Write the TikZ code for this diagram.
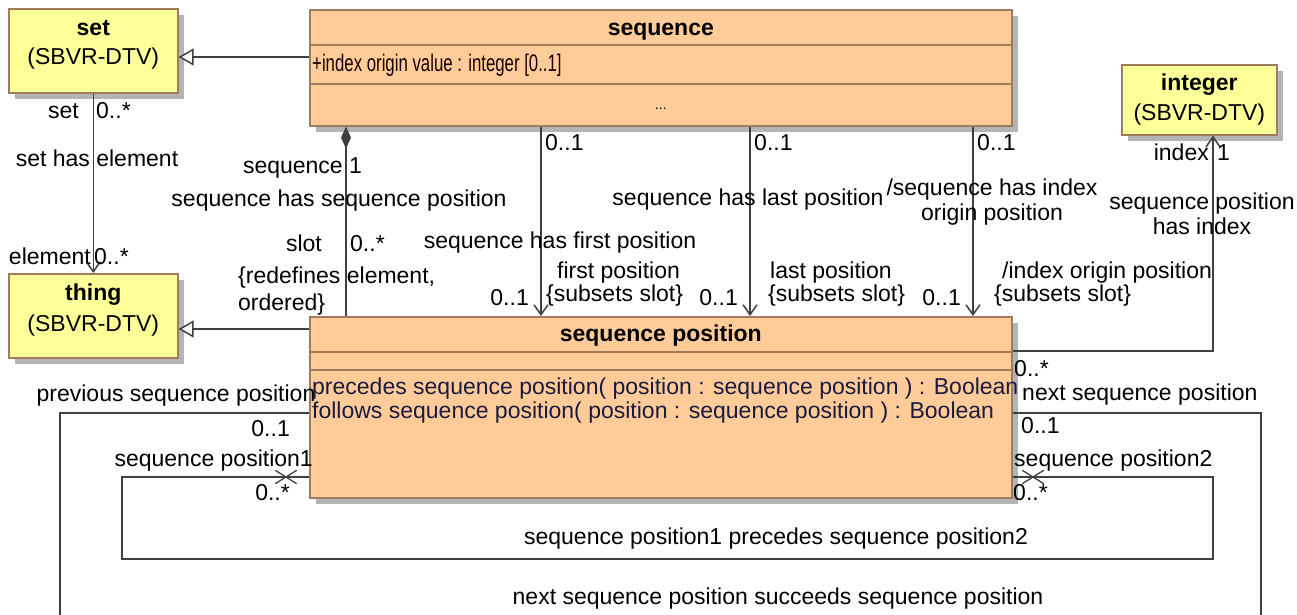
\documentclass[tikz,border=0pt]{standalone}
\usepackage{fontspec}
\setmainfont{Liberation Sans}
\newfontfamily\narrowfont[FakeStretch=0.7]{Liberation Sans}
\usetikzlibrary{arrows.meta,positioning,calc,shadows,shapes.misc}
\definecolor{clsfill}{HTML}{FFCC99}
\definecolor{dtvfill}{HTML}{FFFF99}
\definecolor{clsline}{HTML}{A07C5C}
\definecolor{linegray}{HTML}{404040}
\definecolor{shadowgray}{HTML}{B4B4B4}
\definecolor{optext}{HTML}{1A1A40}
\tikzstyle{cls}=[rectangle, draw=clsline, fill=clsfill, line width=1.6pt, inner sep=0pt,
  anchor=north west, drop shadow={shadow xshift=6pt, shadow yshift=-6pt, fill=shadowgray, opacity=1}]
\tikzstyle{dtv}=[cls, fill=dtvfill]
\tikzstyle{compline}=[draw=clsline, line width=1.6pt]
\tikzstyle{lbl}=[font=\fontsize{23}{26}\selectfont, inner sep=1pt, text height=21pt, text depth=5pt]
\tikzstyle{clsname}=[lbl, font=\fontsize{23}{26}\selectfont\bfseries]
\tikzstyle{twoline}=[font=\fontsize{23}{25}\selectfont, inner sep=1pt, align=center]
\tikzstyle{assoc}=[draw=linegray, line width=1.5pt]
\tikzstyle{nav}=[assoc, -{Straight Barb[length=10pt, width=14pt, line width=1.5pt]}]
\tikzstyle{gen}=[assoc, -{Triangle[open, length=15pt, width=17pt, fill=white, line width=1.5pt]}]
\tikzstyle{comp}=[assoc, {Diamond[length=22pt, width=10pt, fill=linegray]}-]
\tikzstyle{nonav}=[cross out, draw=linegray, line width=1.3pt, minimum width=20pt, minimum height=12pt, inner sep=0pt]

\begin{document}
\begin{tikzpicture}[x=1pt, y=-1pt]
\useasboundingbox (0,0) rectangle (1297,614);
% classes
\node (set) [dtv, minimum width=169, minimum height=84] at (8,8) {};
\node (setname) [clsname] at ($(set.north)+(0,19)$) {set};
\node (setdtv) [lbl] at ($(set.north)+(0,48)$) {(SBVR-DTV)};
\node (thing) [dtv, minimum width=169, minimum height=84] at (8,273) {};
\node (thingname) [clsname] at ($(thing.north)+(0,19)$) {thing};
\node (thingdtv) [lbl] at ($(thing.north)+(0,50)$) {(SBVR-DTV)};
\node (int) [dtv, minimum width=155, minimum height=70] at (1121,64) {};
\node (intname) [clsname] at ($(int.north)+(0,18)$) {integer};
\node (intdtv) [lbl] at ($(int.north)+(0,48)$) {(SBVR-DTV)};

\node (seq) [cls, minimum width=702, minimum height=116] at (309,9) {};
\draw[compline] ($(seq.north west)+(0,36)$) -- ($(seq.north east)+(0,36)$);
\draw[compline] ($(seq.north west)+(0,75)$) -- ($(seq.north east)+(0,75)$);
\node (seqname) [clsname] at ($(seq.north)+(0,18)$) {sequence};
\node (seqattr) [lbl, anchor=west, font=\fontsize{24}{26}\selectfont\narrowfont, text=black!90!red] at ($(seq.north west)+(2,54)$) {+index origin value : integer [0..1]};
\node (seqops) [lbl, font=\fontsize{14}{16}\selectfont] at ($(seq.north)+(0,92)$) {...};

\node (seqpos) [cls, minimum width=702, minimum height=181] at (309,316) {};
\draw[compline] ($(seqpos.north west)+(0,36)$) -- ($(seqpos.north east)+(0,36)$);
\draw[compline] ($(seqpos.north west)+(0,54)$) -- ($(seqpos.north east)+(0,54)$);
\node (seqposname) [clsname] at ($(seqpos.north)+(0,17)$) {sequence position};
\node (op1) [lbl, anchor=west, text=optext] at ($(seqpos.north west)+(2,70)$) {precedes sequence position( position : sequence position ) : Boolean};
\node (op2) [lbl, anchor=west, text=optext] at ($(seqpos.north west)+(2,94)$) {follows sequence position( position : sequence position ) : Boolean};

% connector levels
\coordinate (gset) at (0,57);
\coordinate (gthing) at (0,329);
\coordinate (lint) at (0,351);
\coordinate (lnext) at (0,413);
\coordinate (lpre) at (0,477);
\coordinate (cx) at (346,0);
\coordinate (ix) at (1213,0);

\draw[gen] (seq.west |- gset) -- (set.east |- gset);
\draw[gen] (seqpos.west |- gthing) -- (thing.east |- gthing);
\draw[nav] (set.south) -- (thing.north);
\draw[comp] (seq.south -| cx) -- (seqpos.north -| cx);
\foreach \x in {541,750,973}{
  \coordinate (v) at (\x,0);
  \draw[nav] (seq.south -| v) -- (seqpos.north -| v);
}
\draw[nav] (seqpos.east |- lint) -| (int.south -| ix);
\draw[assoc] (seqpos.west |- lnext) -- (60,413) -- (60,620) -- (1261,620) -- (1261,413) -- (seqpos.east |- lnext);
\draw[assoc] (seqpos.west |- lpre) -- (122,477) -- (122,559) -- (1213,559) -- (1213,477) -- (seqpos.east |- lpre);
\node (xl) [nonav] at (286,477) {};
\node (xr) [nonav] at (1033,477) {};

% set has element
\node (setend) [lbl, anchor=east] at (80,110) {set};
\node (setmul) [lbl, anchor=west] at (95,110) {0..*};
\node (sethas) [lbl] at (97,158) {set has element};
\node (elemend) [lbl, anchor=east] at (92,256) {element};
\node (elemmul) [lbl, anchor=west] at (93,256) {0..*};

% sequence has sequence position
\node (seqend) [lbl, anchor=east] at (344,165) {sequence};
\node (seqmul) [lbl, anchor=west] at (348,165) {1};
\node (seqhas) [lbl] at (339,198) {sequence has sequence position};
\node (slotend) [lbl, anchor=east] at (323,243) {slot};
\node (slotmul) [lbl, anchor=west] at (349,243) {0..*};
\node (slotc1) [lbl, anchor=west] at (237,275) {\{redefines element,};
\node (slotc2) [lbl, anchor=west] at (237,302) {ordered\}};

% first / last / index origin
\node (fmul1) [lbl, anchor=west] at (544,142) {0..1};
\node (fhas) [lbl] at (560,240) {sequence has first position};
\node (fend) [lbl, anchor=west] at (556,270) {first position};
\node (fsub) [lbl, anchor=west] at (545,293) {\{subsets slot\}};
\node (fmul2) [lbl, anchor=east] at (530,297) {0..1};
\node (lmul1) [lbl, anchor=west] at (753,142) {0..1};
\node (lhas) [lbl] at (748,197) {sequence has last position};
\node (lend) [lbl, anchor=west] at (769,270) {last position};
\node (lsub) [lbl, anchor=west] at (767,293) {\{subsets slot\}};
\node (lmul2) [lbl, anchor=east] at (739,297) {0..1};
\node (omul1) [lbl, anchor=west] at (976,142) {0..1};
\node (ohas) [twoline] at (992,202) {/sequence has index\\origin position};
\node (oend) [lbl, anchor=west] at (1001,270) {/index origin position};
\node (osub) [lbl, anchor=west] at (993,293) {\{subsets slot\}};
\node (omul2) [lbl, anchor=east] at (962,297) {0..1};

% sequence position has index
\node (iend) [lbl, anchor=east] at (1210,152) {index};
\node (imul) [lbl, anchor=west] at (1216,152) {1};
\node (ihas) [twoline] at (1202,214) {sequence position\\has index};
\node (spmul) [lbl, anchor=west] at (1013,368) {0..*};

% succeeds
\node (prevend) [lbl] at (176,393) {previous sequence position};
\node (prevmul) [lbl, anchor=east] at (291,428) {0..1};
\node (nextend) [lbl, anchor=west] at (1021,392) {next sequence position};
\node (nextmul) [lbl, anchor=west] at (1020,425) {0..1};
\node (succ) [lbl] at (778,596) {next sequence position succeeds sequence position};

% precedes
\node (p1end) [lbl, anchor=east] at (314,458) {sequence position1};
\node (p1mul) [lbl, anchor=east] at (291,492) {0..*};
\node (p2end) [lbl, anchor=west] at (1013,458) {sequence position2};
\node (p2mul) [lbl, anchor=west] at (1012,492) {0..*};
\node (prec) [lbl] at (776,536) {sequence position1 precedes sequence position2};
\end{tikzpicture}
\end{document}
